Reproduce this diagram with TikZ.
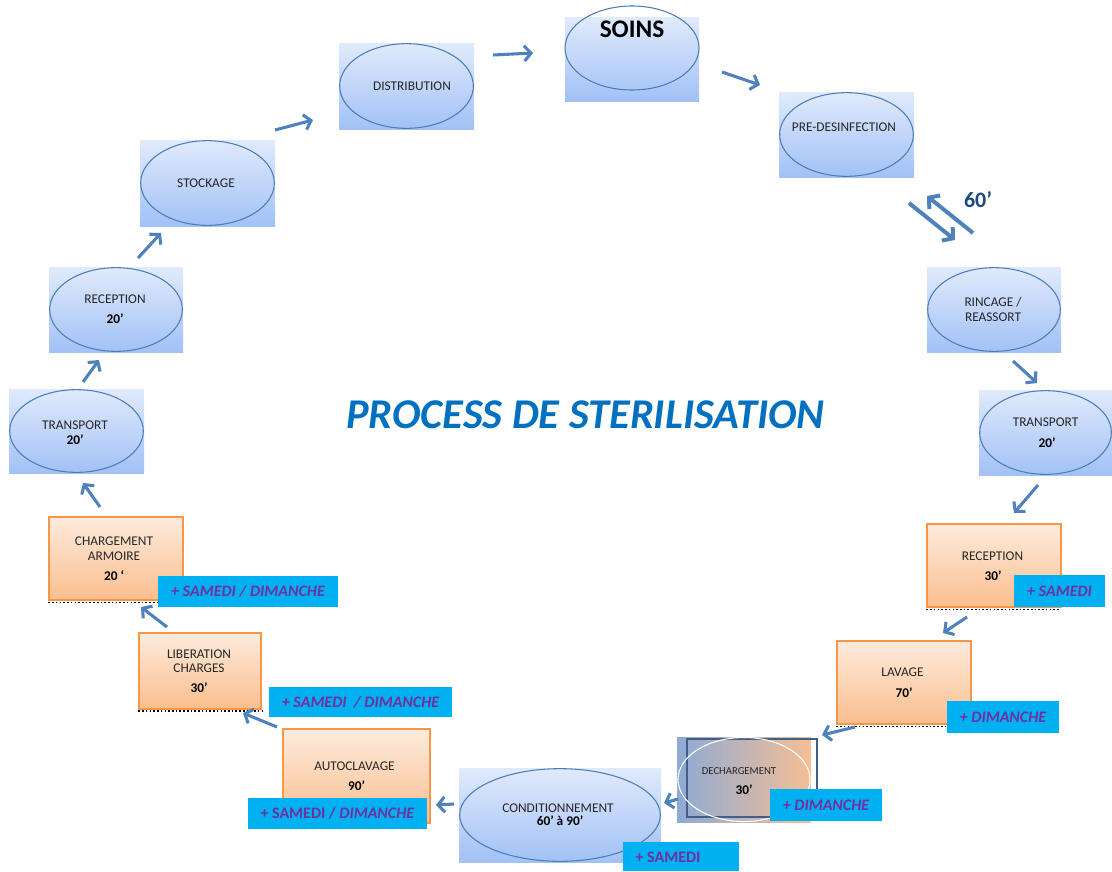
\documentclass[tikz,border=0pt]{standalone}
\usepackage{fontspec}
\setmainfont{Carlito}
\usetikzlibrary{arrows.meta,calc}
\definecolor{arrblue}{RGB}{79,129,189}
\definecolor{elline}{RGB}{74,126,187}
\definecolor{bluetop}{RGB}{224,234,252}
\definecolor{bluebot}{RGB}{162,193,246}
\definecolor{ortop}{RGB}{253,235,220}
\definecolor{orbot}{RGB}{250,190,142}
\definecolor{orborder}{RGB}{247,150,70}
\definecolor{labbg}{RGB}{0,176,240}
\definecolor{labtext}{RGB}{112,48,160}
\definecolor{titleblue}{RGB}{0,112,192}
\definecolor{navy}{RGB}{31,73,125}
\definecolor{dechL}{RGB}{142,170,212}
\definecolor{dechR}{RGB}{246,190,148}
\definecolor{dechline}{RGB}{68,94,140}
\begin{document}
\begin{tikzpicture}[x=0.75pt,y=-0.75pt,
  plainblue/.style 2 args={draw=none, top color=bluetop, bottom color=bluebot,
    minimum width=#1*0.75pt, minimum height=#2*0.75pt, inner sep=0pt},
  bluebox/.style 2 args={plainblue={#1}{#2},
    path picture={\draw[elline, line width=0.8pt] (path picture bounding box.center)
      ellipse [x radius=#1*0.375pt-0.5pt, y radius=#2*0.375pt-0.5pt];}},
  orbox/.style 2 args={draw=orborder, line width=0.9pt, top color=ortop, bottom color=orbot,
    minimum width=#1*0.75pt, minimum height=#2*0.75pt, inner sep=0pt},
  labbox/.style 2 args={fill=labbg, minimum width=#1*0.75pt, minimum height=#2*0.75pt,
    inner sep=0pt, text=labtext, font=\bfseries\fontsize{12}{14}\selectfont},
  txt/.style={inner sep=0pt, font=\fontsize{10}{12}\selectfont, text=black!85},
  btxt/.style={inner sep=0pt, font=\bfseries\fontsize{10}{12}\selectfont, text=black},
  arr/.style={draw=arrblue, line width=2.3pt, -{Straight Barb[length=5pt,width=11.5pt]}},
  bigarr/.style={draw=arrblue, line width=3pt, -{Straight Barb[length=5.5pt,width=13pt]}},
  dots/.style={black, line width=1.2pt, dash pattern=on 1.2pt off 1.6pt}
]
\useasboundingbox (0,0) rectangle (1112,871);

% ---- blue boxes ----
\node[plainblue={134}{84}] (soins) at (632,59) {};
\draw[elline, line width=0.8pt] (632,48) ellipse [x radius=67*0.75pt, y radius=42*0.75pt];
\node[bluebox={135}{86}] (dist) at (406.5,86) {};
\node[bluebox={135}{85}] (pred) at (846.5,134.5) {};
\node[bluebox={134}{85}] (rinc) at (994,309.5) {};
\node[bluebox={133}{85}] (trR) at (1045.5,432.5) {};
\node[bluebox={202}{94}] (cond) at (560,815) {};
\node[bluebox={135}{84}] (trL) at (76.5,431) {};
\node[bluebox={134}{85}] (recL) at (116,309.5) {};
\node[bluebox={135}{86}] (stock) at (207.5,183) {};

% ---- orange boxes ----
\node[orbox={134}{83}] (recR) at (994,565.5) {};
\node[orbox={134}{83}] (lav) at (904,682.5) {};
\node[orbox={147}{94}] (auto) at (356.5,776) {};
\node[orbox={122}{76}] (lib) at (200,671) {};
\node[orbox={134}{83}] (charg) at (116,558.5) {};

% dotted marks under orange boxes
\draw[dots] (recR.south west) ++(0,2) -- ++(134,0);
\draw[dots] (lav.south west) ++(0,2) -- ++(134,0);
\draw[dots] (charg.south west) ++(0,2) -- ++(134,0);
\draw[dots] (lib.south west) ++(0,1.5) -- ++(125,0);

% ---- dechargement ----
\node[draw=none, left color=dechL, right color=dechR, minimum width=134*0.75pt,
  minimum height=85*0.75pt, inner sep=0pt] (dech) at (744,779.5) {};
\node[draw=dechline, line width=0.8pt, minimum width=130*0.75pt, minimum height=78*0.75pt,
  inner sep=0pt] (dechin) at (752,778) {};
\draw[white, line width=0.8pt] (dech.center) ellipse [x radius=66*0.75pt, y radius=42*0.75pt];

% ---- texts ----
\node[inner sep=0pt, font=\bfseries\fontsize{19}{22}\selectfont] (tsoins) at (632,29) {SOINS};
\node[txt] (tdist) at (412,86) {DISTRIBUTION};
\node[txt] (tpred) at (844,127) {PRE-DESINFECTION};
\node[txt] (trinc1) at (993,302) {RINCAGE /};
\node[txt] (trinc2) at (993,317) {REASSORT};
\node[txt] (ttrR1) at (1045.5,422) {TRANSPORT};
\node[btxt] (ttrR2) at (1047,443) {20’};
\node[txt] (trecR1) at (992.5,556) {RECEPTION};
\node[btxt] (trecR2) at (993,576) {30’};
\node[txt] (tlav1) at (902.5,672) {LAVAGE};
\node[btxt] (tlav2) at (904,693) {70’};
\node[inner sep=0pt, font=\fontsize{8}{10}\selectfont, text=black!85] (tdech1) at (739,771) {DECHARGEMENT};
\node[btxt] (tdech2) at (744,790) {30’};
\node[txt] (tcond1) at (558,808) {CONDITIONNEMENT};
\node[btxt] (tcond2) at (560,821) {60’ à 90’};
\node[txt] (tauto1) at (354.5,766) {AUTOCLAVAGE};
\node[btxt] (tauto2) at (356.5,786) {90’};
\node[txt] (tlib1) at (199,654) {LIBERATION};
\node[txt] (tlib2) at (199,668) {CHARGES};
\node[btxt] (tlib3) at (199,688) {30’};
\node[txt] (tch1) at (114,541) {CHARGEMENT};
\node[txt] (tch2) at (114,556) {ARMOIRE};
\node[btxt] (tch3) at (114,576) {20 ‘};
\node[txt] (ttrL1) at (75,425) {TRANSPORT};
\node[btxt] (ttrL2) at (75,440) {20’};
\node[txt] (trecL1) at (115,299) {RECEPTION};
\node[btxt] (trecL2) at (115,319) {20’};
\node[txt] (tstock) at (206,183) {STOCKAGE};

% ---- labels ----
\node[labbox={91}{32}] (lrecR) at (1059.5,591) {\itshape + SAMEDI};
\node[labbox={112}{32}] (llav) at (1003,717) {\itshape + DIMANCHE};
\node[labbox={112}{32}] (ldech) at (826,805) {\itshape + DIMANCHE};
\node[labbox={116}{29}] (lcond) at (681,856.5) {};
\node[inner sep=0pt, text=labtext, font=\bfseries\fontsize{12}{14}\selectfont] (tlcond) at (668,857) {+ SAMEDI};
\node[labbox={179}{31}] (lauto) at (337.5,813.5) {+ SAMEDI / \textit{DIMANCHE}};
\node[labbox={183}{30}] (llib) at (360.5,702) {\itshape + SAMEDI \ / DIMANCHE};
\node[labbox={180}{31}] (lcharg) at (248,591.5) {\itshape + SAMEDI / DIMANCHE};

% ---- title ----
\node[inner sep=0pt, text=titleblue, font=\bfseries\itshape\fontsize{31.8}{36}\selectfont] (title) at (585.5,415) {PROCESS DE STERILISATION};
\node[inner sep=0pt, text=navy, font=\bfseries\fontsize{16.5}{19}\selectfont] (t60) at (978,200) {60’};

% ---- arrow end points ----
\coordinate (a1s) at (493,55);   \coordinate (a1e) at (533,53);
\coordinate (a2s) at (722,72);   \coordinate (a2e) at (760,85);
\coordinate (a3s) at (909,203);  \coordinate (a3e) at (955,240);
\coordinate (a3bs) at (973,233); \coordinate (a3be) at (927,196);
\coordinate (a4s) at (1013,361); \coordinate (a4e) at (1037,383);
\coordinate (a5s) at (1038,485); \coordinate (a5e) at (1014,513);
\coordinate (a6s) at (967,617);  \coordinate (a6e) at (943,633);
\coordinate (a7s) at (855,727);  \coordinate (a7e) at (822,735);
\coordinate (a8s) at (678,799);  \coordinate (a8e) at (664,803);
\coordinate (a9s) at (454,804);  \coordinate (a9e) at (436,805);
\coordinate (a10s) at (277,727); \coordinate (a10e) at (243,713);
\coordinate (a11s) at (167,627); \coordinate (a11e) at (141,607);
\coordinate (a12s) at (100,507); \coordinate (a12e) at (83,483);
\coordinate (a13s) at (83,382);  \coordinate (a13e) at (99,360);
\coordinate (a14s) at (138,258); \coordinate (a14e) at (161,233);
\coordinate (a15s) at (275,130); \coordinate (a15e) at (313,120);

\draw[arr] (a1s) -- (a1e);
\draw[arr] (a2s) -- (a2e);
\draw[bigarr] (a3s) -- (a3e);
\draw[bigarr] (a3bs) -- (a3be);
\draw[arr] (a4s) -- (a4e);
\draw[arr] (a5s) -- (a5e);
\draw[arr] (a6s) -- (a6e);
\draw[arr] (a7s) -- (a7e);
\draw[arr] (a8s) -- (a8e);
\draw[arr] (a9s) -- (a9e);
\draw[arr] (a10s) -- (a10e);
\draw[arr] (a11s) -- (a11e);
\draw[arr] (a12s) -- (a12e);
\draw[arr] (a13s) -- (a13e);
\draw[arr] (a14s) -- (a14e);
\draw[arr] (a15s) -- (a15e);
\end{tikzpicture}
\end{document}
